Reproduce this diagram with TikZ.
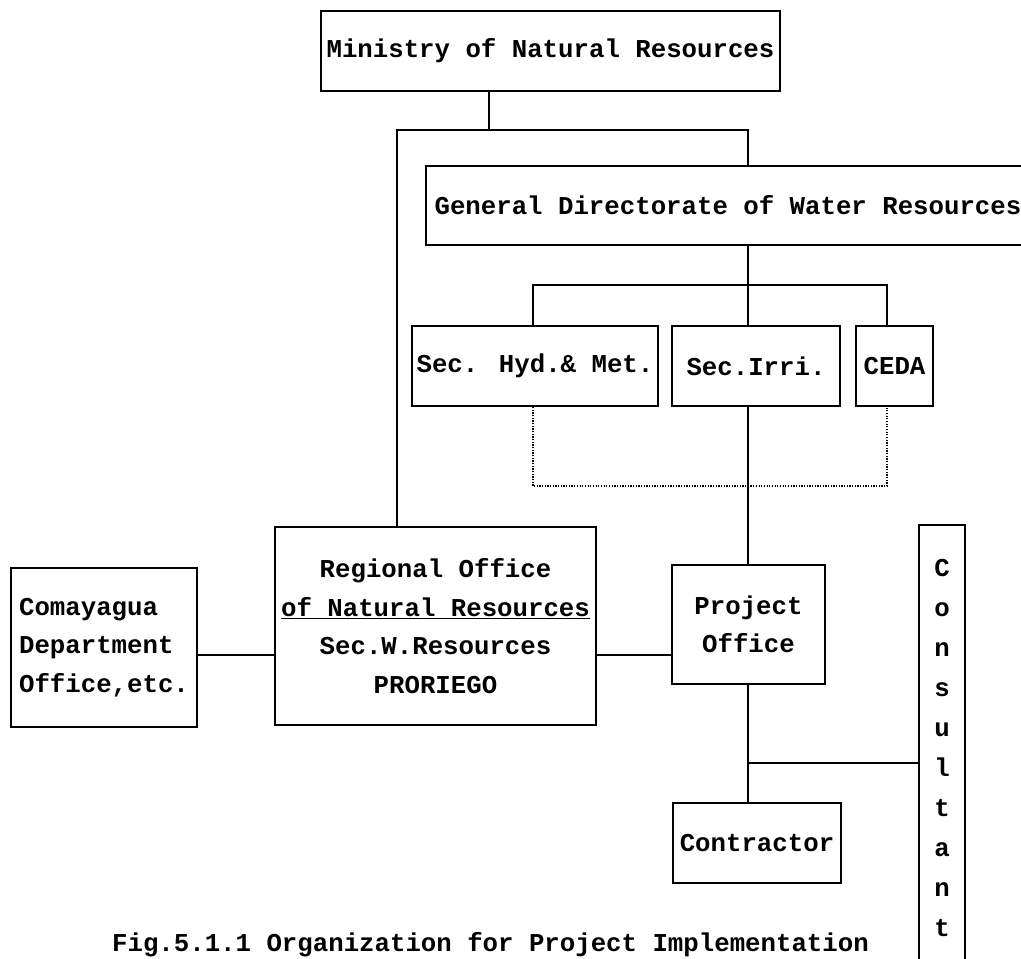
\documentclass[tikz,border=0pt]{standalone}
\usepackage{fontspec}
\setmainfont{Liberation Mono}
\newcommand\orgfont{\fontsize{18.3}{27.4}\selectfont\bfseries}
\newcommand\colfont{\fontsize{18.3}{28.45}\selectfont\bfseries}
\begin{document}
\begin{tikzpicture}[x=0.025cm, y=-0.025cm, line width=1.3pt,
    unit/.style={draw, rectangle, inner sep=0pt, font=\orgfont, align=center},
    dotline/.style={line width=0.9pt, densely dotted}]
    \useasboundingbox (0,0) rectangle (1021,959);
    \clip (0,0) rectangle (1021,959);

    \node[unit, minimum width=11.475cm, minimum height=2cm] (ministry) at (550.5,51) {Ministry of Natural Resources};
    \node[unit, minimum width=15.1cm, minimum height=1.975cm] (gd) at (728,205.5) {General Directorate of Water Resources};
    \node[unit, minimum width=6.15cm, minimum height=2cm] (hyd) at (535,366) {Sec. Hyd.\& Met.};
    \node[unit, minimum width=4.2cm, minimum height=2cm] (irri) at (756,366) {Sec.Irri.};
    \node[unit, minimum width=1.925cm, minimum height=2cm] (ceda) at (894.5,366) {CEDA};
    \node[unit, minimum width=8.025cm, minimum height=4.95cm] (regional) at (435.5,626)
        {Regional Office\\\underline{of Natural Resources}\\Sec.W.Resources\\PRORIEGO};
    \node[unit, align=left, minimum width=4.65cm, minimum height=3.975cm] (coma) at (104,647.5)
        {Comayagua\\Department\\Office,etc.};
    \node[unit, minimum width=3.825cm, minimum height=2.975cm] (project) at (748.5,624.5) {Project\\Office};
    \node[unit, minimum width=4.2cm, minimum height=2cm] (contractor) at (757,843) {Contractor};
    \node[unit, font=\colfont, minimum width=1.15cm, minimum height=11.125cm] (consultant) at (942,747.5)
        {C\\o\\n\\s\\u\\l\\t\\a\\n\\t};

    \coordinate (mjoin) at (489,130);
    \coordinate (left) at (397,130);
    \coordinate (right) at (748,130);
    \coordinate (sjoin) at (748,285);
    \coordinate (hj) at (533,285);
    \coordinate (cj) at (887,285);
    \coordinate (dots) at (748,486);
    \coordinate (link) at (0,655);
    \coordinate (pj) at (748,763);

    \draw (ministry.south -| mjoin) -- (mjoin);
    \draw (left |- regional.north) -- (left) -- (right) -- (right |- gd.north);
    \draw (gd.south -| sjoin) -- (sjoin |- irri.north);
    \draw (hj |- hyd.north) -- (hj) -- (cj) -- (cj |- ceda.north);
    \draw[dotline] (hj |- hyd.south) -- (hj |- dots) -- (cj |- dots) -- (cj |- ceda.south);
    \draw (sjoin |- irri.south) -- (sjoin |- project.north);
    \draw (coma.east |- link) -- (regional.west |- link);
    \draw (regional.east |- link) -- (project.west |- link);
    \draw (pj |- project.south) -- (pj |- contractor.north);
    \draw (pj) -- (pj -| consultant.west);

    \node[font=\orgfont, anchor=base] (caption) at (490.5,951) {Fig.5.1.1 Organization for Project Implementation};
\end{tikzpicture}
\end{document}
